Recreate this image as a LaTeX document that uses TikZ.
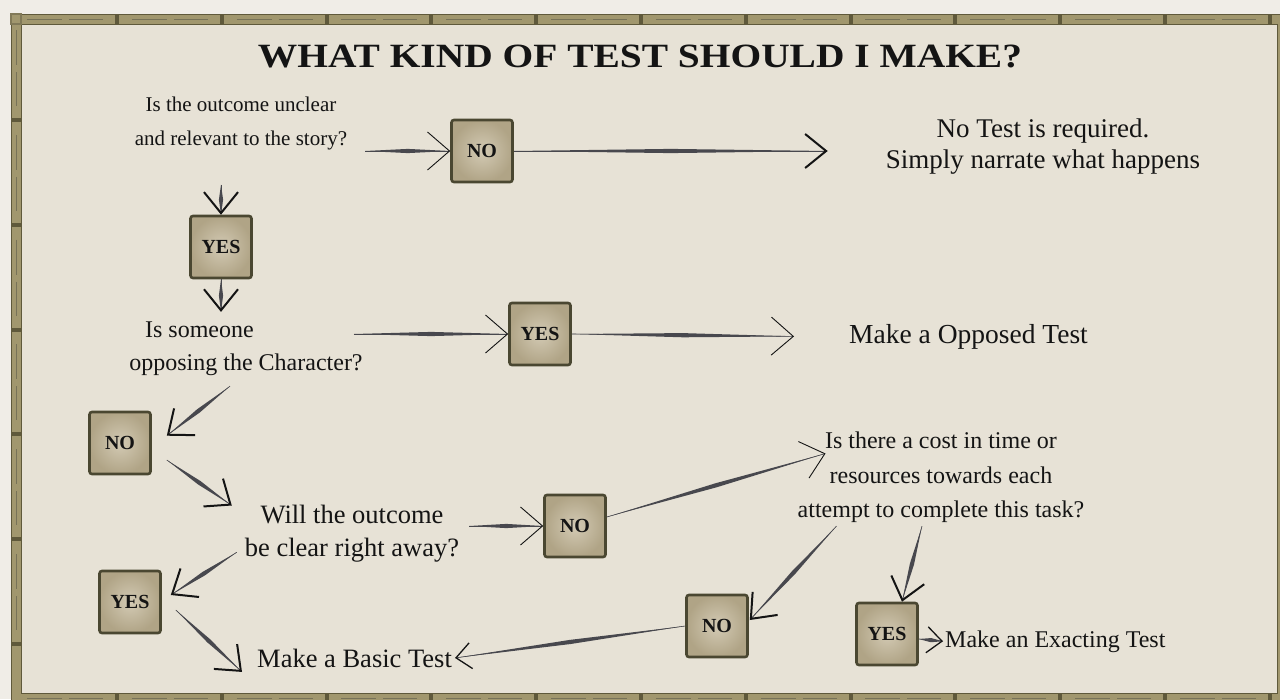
\documentclass[tikz,border=0pt]{standalone}
\usepackage{graphicx}
\usepackage{fontspec}
\setmainfont{Liberation Serif}
\usetikzlibrary{arrows.meta,calc}
\definecolor{paper}{HTML}{E7E2D6}
\definecolor{outside}{HTML}{F0EDE7}
\definecolor{framecol}{HTML}{A1976E}
\definecolor{frameedge}{HTML}{5F593B}
\definecolor{boxin}{HTML}{D3CAB4}
\definecolor{boxout}{HTML}{B0A486}
\definecolor{boxedge}{HTML}{4A4731}
\definecolor{shaft}{HTML}{48484E}
\definecolor{ink}{HTML}{141414}
\tikzset{
  txt/.style={align=center, inner sep=3pt, text=ink},
  decide/.style={draw=boxedge, line width=2.6pt, inner color=boxin, outer color=boxout,
    rounded corners=2.5pt, minimum width=61pt, minimum height=62pt,
    font=\fontsize{20}{22}\selectfont\bfseries, text=ink, inner sep=0pt},
  tipthin/.style={draw=shaft, line width=0.6pt, -{Straight Barb[length=22pt,width=38pt,line width=0.9pt,color=ink]}},
  tipbold/.style={draw=shaft, line width=0.6pt, -{Straight Barb[length=21pt,width=34pt,line width=2pt,color=ink]}},
  tipsmall/.style={draw=shaft, line width=0.6pt, -{Straight Barb[length=15pt,width=26pt,line width=1.3pt,color=ink]}},
}
\newcommand\flowarrow[3][tipbold]{%
  \fill[shaft] (#2) -- ($(#2)!0.5!(#3)!2.1pt!90:(#3)$) -- (#3) -- ($(#2)!0.5!(#3)!2.1pt!-90:(#3)$) -- cycle;
  \draw[#1] (#2) -- (#3);}
\begin{document}
\begin{tikzpicture}[x=1pt,y=-1pt]
\useasboundingbox (0,0) rectangle (1280,699);
% background and frame
\fill[outside] (0,0) rectangle (1280,699);
\fill[paper] (16,19) rectangle (1282,698);
\draw[framecol, line width=10pt] (16,19) rectangle (1282,698);
\draw[frameedge, line width=0.9pt] (11,14) rectangle (1287,703);
\draw[frameedge, line width=0.9pt] (21,24) rectangle (1277,693);
\foreach \x in {117,221.8,...,1280} {
  \fill[frameedge] (\x-2,14) rectangle (\x+2,24);
  \fill[frameedge] (\x-2,693) rectangle (\x+2,703);
  \draw[frameedge!85, line width=0.8pt] (\x-90,19) -- (\x-55,19) (\x-48,19) -- (\x-14,19);
  \draw[frameedge!85, line width=0.8pt] (\x-90,698) -- (\x-55,698) (\x-48,698) -- (\x-14,698);
}
\foreach \y in {120,224.8,...,690} {
  \fill[frameedge] (11,\y-2) rectangle (21,\y+2);
  \draw[frameedge!85, line width=0.8pt] (16,\y-90) -- (16,\y-55) (16,\y-48) -- (16,\y-14);
}
\fill[framecol!80!black] (10,13) rectangle (22,25);
\fill[framecol] (12,15) rectangle (20,23);
% title
\node[font=\fontsize{34}{40}\selectfont\bfseries, text=ink, anchor=base] (title) at (640,67)
  {\scalebox{1.16}[1]{WHAT KIND OF TEST SHOULD I MAKE?}};
% texts
\node[txt, font=\fontsize{21}{34}\selectfont] (q1) at (241,123) {Is the outcome unclear\\and relevant to the story?};
\node[txt, font=\fontsize{27}{31.5}\selectfont] (r1) at (1043,146.5) {No Test is required.\\Simply narrate what happens};
\node[txt, font=\fontsize{24}{33}\selectfont] (q2) at (246,349) {Is someone\hspace*{93pt}\mbox{}\\opposing the Character?};
\node[txt, font=\fontsize{26.5}{33}\selectfont] (q3) at (352,533.5) {Will the outcome\\be clear right away?};
\node[txt, font=\fontsize{24}{34.5}\selectfont] (q4) at (941,477.5) {Is there a cost in time or\\resources towards each\\attempt to complete this task?};
\node[txt, font=\fontsize{27.5}{33}\selectfont, anchor=base west] (r2) at (846,343) {Make a Opposed Test};
\node[txt, font=\fontsize{26.5}{33}\selectfont, anchor=base west] (r3) at (254,667) {Make a Basic Test};
\node[txt, font=\fontsize{24}{33}\selectfont, anchor=base west] (r4) at (942,647) {Make an Exacting Test};
% decision boxes
\node[decide] (n1) at (482,151) {NO};
\node[decide] (y1) at (221,247) {YES};
\node[decide] (y2) at (540,334) {YES};
\node[decide] (n2) at (120,443) {NO};
\node[decide] (n3) at (575,526) {NO};
\node[decide] (y3) at (130,602) {YES};
\node[decide] (n4) at (717,626) {NO};
\node[decide] (y4) at (887,634) {YES};
% connector ends
\coordinate (a1) at ($(q1.east |- n1.west)+(15,0)$);
\coordinate (b1) at ($(r1.west |- n1.east)+(-55,0)$);
\coordinate (a2) at ($(q1.south -| y1.north)+(0,32)$);
\coordinate (b2) at ($(y1.south |- q2.north)+(0,-7)$);
\coordinate (a3) at ($(q2.east |- y2.west)+(-12,0)$);
\coordinate (b3) at ($(r2.west)+(-52,0)$);
\coordinate (a4) at ($(q2.south)+(-16,7)$);
\coordinate (b4) at ($(n2.north east)+(15,25)$);
\coordinate (a5) at ($(n2.east)+(15,17)$);
\coordinate (b5) at ($(q3.west)+(-10,-28)$);
\coordinate (a6) at ($(q3.east |- n3.west)+(7,0)$);
\coordinate (a7) at ($(n3.east)+(0,-9)$);
\coordinate (b7) at ($(q4.west)+(31,-24)$);
\coordinate (a8) at ($(q3.south west)+(-5,-13)$);
\coordinate (b8) at ($(y3.east)+(9,-7)$);
\coordinate (a9) at ($(y3.east)+(14,8)$);
\coordinate (b9) at ($(r3.west)+(-12,14)$);
\coordinate (a10) at ($(q4.south west)+(42,0)$);
\coordinate (b10) at ($(n4.east)+(1,-6)$);
\coordinate (a11) at ($(q4.south)+(-19,0)$);
\coordinate (b11) at ($(y4.north)+(15,0)$);
\coordinate (a12) at ($(y4.east)+(0,5)$);
\coordinate (b12) at ($(r4.west)+(1,0)$);
% connectors
\flowarrow[tipthin]{a1}{n1.west}
\flowarrow{n1.east}{b1}
\flowarrow{a2}{y1.north}
\flowarrow{y1.south}{b2}
\flowarrow[tipthin]{a3}{y2.west}
\flowarrow[tipthin]{y2.east}{b3}
\flowarrow{a4}{b4}
\flowarrow{a5}{b5}
\flowarrow[tipthin]{a6}{n3.west}
\flowarrow[tipthin]{a7}{b7}
\flowarrow{a8}{b8}
\flowarrow{a9}{b9}
\flowarrow{a10}{b10}
\flowarrow[tipsmall]{n4.west}{r3.east}
\flowarrow{a11}{b11}
\flowarrow[tipsmall]{a12}{b12}
\end{tikzpicture}
\end{document}
